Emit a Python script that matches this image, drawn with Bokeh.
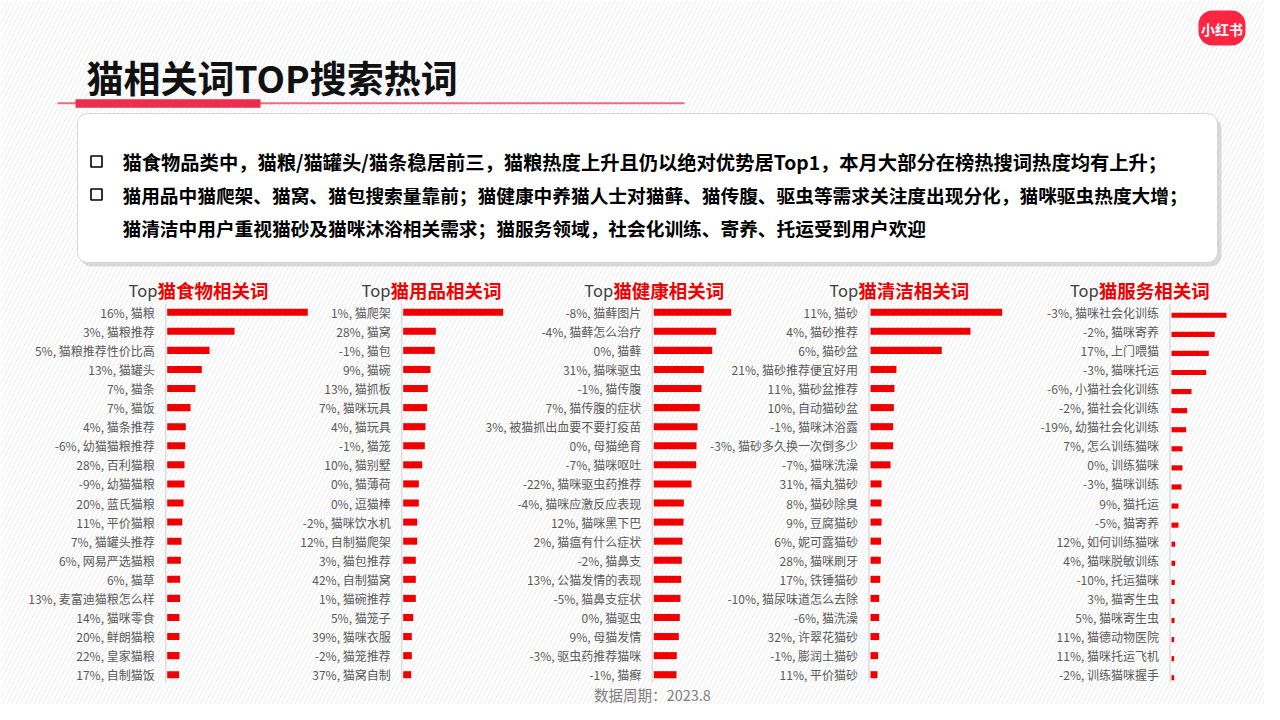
from bokeh.plotting import figure
from bokeh.models import Range1d, ColumnDataSource
from bokeh.core.properties import value
from bokeh.transform import dodge
from bokeh.embed import file_html
from bokeh.resources import INLINE

# ---------------- data ----------------
page_title = "猫相关词TOP搜索热词"
bullet_lines = [
    "猫食物品类中，猫粮/猫罐头/猫条稳居前三，猫粮热度上升且仍以绝对优势居Top1，本月大部分在榜热搜词热度均有上升；",
    "猫用品中猫爬架、猫窝、猫包搜索量靠前；猫健康中养猫人士对猫藓、猫传腹、驱虫等需求关注度出现分化，猫咪驱虫热度大增；",
    "猫清洁中用户重视猫砂及猫咪沐浴相关需求；猫服务领域，社会化训练、寄养、托运受到用户欢迎",
]
footer_text = "数据周期：2023.8"
logo_text = "小红书"

panel_names = ["猫食物相关词", "猫用品相关词", "猫健康相关词", "猫清洁相关词", "猫服务相关词"]

food_kw = ["猫粮", "猫粮推荐", "猫粮推荐性价比高", "猫罐头", "猫条", "猫饭", "猫条推荐", "幼猫猫粮推荐",
           "百利猫粮", "幼猫猫粮", "蓝氏猫粮", "平价猫粮", "猫罐头推荐", "网易严选猫粮", "猫草",
           "麦富迪猫粮怎么样", "猫咪零食", "鲜朗猫粮", "皇家猫粮", "自制猫饭"]
food_pct = [16, 3, 5, 13, 7, 7, 4, -6, 28, -9, 20, 11, 7, 6, 6, 13, 14, 20, 22, 17]
food_heat = [100, 47.9, 30.1, 24.6, 20.1, 16.6, 13.2, 12.8, 12.3, 12.3, 11.6, 10.7, 10.2, 9.7, 9.2,
             9.2, 8.7, 8.7, 8.7, 8.5]

goods_kw = ["猫爬架", "猫窝", "猫包", "猫碗", "猫抓板", "猫咪玩具", "猫玩具", "猫笼", "猫别墅", "猫薄荷",
            "逗猫棒", "猫咪饮水机", "自制猫爬架", "猫包推荐", "自制猫窝", "猫碗推荐", "猫笼子", "猫咪衣服",
            "猫笼推荐", "猫窝自制"]
goods_pct = [1, 28, -1, 9, 13, 7, 4, -1, 10, 0, 0, -2, 12, 3, 42, 1, 5, 39, -2, 37]
goods_heat = [100, 32.6, 31.6, 27.3, 24.6, 24.0, 22.3, 21.6, 19.0, 15.6, 15.6, 14.0, 14.0, 12.6, 12.6,
              12.6, 10.0, 8.6, 8.6, 8.0]

health_kw = ["猫藓图片", "猫藓怎么治疗", "猫藓", "猫咪驱虫", "猫传腹", "猫传腹的症状", "被猫抓出血要不要打疫苗",
             "母猫绝育", "猫咪呕吐", "猫咪驱虫药推荐", "猫咪应激反应表现", "猫咪黑下巴", "猫瘟有什么症状",
             "猫鼻支", "公猫发情的表现", "猫鼻支症状", "猫驱虫", "母猫发情", "驱虫药推荐猫咪", "猫癣"]
health_pct = [-8, -4, 0, 31, -1, 7, 3, 0, -7, -22, -4, 12, 2, -2, 13, -5, 0, 9, -3, -1]
health_heat = [100, 80.6, 75.5, 64.6, 61.6, 59.4, 56.5, 55.2, 54.8, 48.7, 38.8, 38.4, 37.1, 36.2, 35.4,
               34.5, 33.6, 32.3, 29.7, 29.3]

clean_kw = ["猫砂", "猫砂推荐", "猫砂盆", "猫砂推荐便宜好用", "猫砂盆推荐", "自动猫砂盆", "猫咪沐浴露",
            "猫砂多久换一次倒多少", "猫咪洗澡", "福丸猫砂", "猫砂除臭", "豆腐猫砂", "妮可露猫砂", "猫咪刷牙",
            "铁锤猫砂", "猫尿味道怎么去除", "猫洗澡", "许翠花猫砂", "膨润土猫砂", "平价猫砂"]
clean_pct = [11, 4, 6, 21, 11, 10, -1, -3, -7, 31, 8, 9, 6, 28, 17, -10, -6, 32, -1, 11]
clean_heat = [100, 75.9, 54.1, 19.7, 18.2, 17.7, 17.2, 17.2, 15.2, 8.4, 8.4, 8.4, 8.1, 7.8, 7.4,
              6.6, 6.6, 6.6, 5.8, 5.3]

service_kw = ["猫咪社会化训练", "猫咪寄养", "上门喂猫", "猫咪托运", "小猫社会化训练", "猫社会化训练",
              "幼猫社会化训练", "怎么训练猫咪", "训练猫咪", "猫咪训练", "猫托运", "猫寄养", "如何训练猫咪",
              "猫咪脱敏训练", "托运猫咪", "猫寄生虫", "猫咪寄生虫", "猫德动物医院", "猫咪托运飞机", "训练猫咪握手"]
service_pct = [-3, -2, 17, -3, -6, -2, -19, 7, 0, -3, 9, -5, 12, 4, -10, 3, 5, 11, 11, -2]
service_heat = [100, 78.7, 67.8, 63.1, 36.4, 28.5, 26.7, 20.0, 20.0, 18.2, 12.7, 12.7, 6.7, 6.7, 6.0,
                5.5, 5.5, 4.9, 4.9, 4.9]

panels = [
    (food_kw, food_pct, food_heat),
    (goods_kw, goods_pct, goods_heat),
    (health_kw, health_pct, health_heat),
    (clean_kw, clean_pct, clean_heat),
    (service_kw, service_pct, service_heat),
]
HEAT_MAX = 100

# ---------------- layout (pixel geometry) ----------------
X0, X1, Y0, Y1 = 0, 1264, 0, 704
axis_px = [166.7, 402.7, 653.3, 870.0, 1171.0]      # where value 0 sits
full_px = [307.3, 502.7, 730.7, 1001.7, 1226.0]     # where HEAT_MAX sits
title_split = [157.0, 390.0, 612.7, 857.7, 1098.3]
ROW0, STEP = 311.7, 19.08

FONT = value("Noto Sans CJK SC")
RED = "#f00000"

p = figure(width=X1 - X0, height=Y1 - Y0, x_range=Range1d(X0, X1), y_range=Range1d(Y1, Y0),
           output_backend="svg", toolbar_location=None, x_axis_type=None, y_axis_type=None,
           min_border=0, outline_line_color=None, background_fill_color="white",
           border_fill_color="white")
p.grid.visible = False

xr = {}
for k in range(5):
    s = (full_px[k] - axis_px[k]) / HEAT_MAX
    xr[f"p{k}"] = Range1d(start=(X0 - axis_px[k]) / s, end=(X1 - axis_px[k]) / s)
p.extra_x_ranges = xr
p.extra_y_ranges = {"rows": Range1d(start=(Y1 - ROW0) / STEP, end=(Y0 - ROW0) / STEP)}

# background stripes
p.quad(left=X0, right=X1, top=Y0, bottom=Y1, fill_color="white", line_color=None,
       hatch_pattern="/", hatch_color="#ececec", hatch_scale=9, hatch_weight=1)


def rquad(**kw):
    r = kw.pop("radius", 0)
    try:
        return p.quad(border_radius=r, **kw)
    except Exception:
        return p.quad(**kw)


# logo
rquad(left=1198, right=1245, top=10, bottom=45, fill_color="#ff2442", line_color=None, radius=14)
p.text(x=[1221.5], y=[28], text=[logo_text], text_color="white", text_font=FONT,
       text_font_style="bold", text_font_size="14px", text_align="center", text_baseline="middle")

# page title
p.text(x=[86], y=[76], text=[page_title], text_color="#111111", text_font=FONT,
       text_font_style="bold", text_font_size="37px", text_align="left", text_baseline="middle")
p.segment(x0=[57], x1=[684], y0=[102.7], y1=[102.7], line_color="#ec6b7d", line_width=2)
p.quad(left=75, right=260, top=98.7, bottom=107.3, fill_color="#ee2c4b", line_color=None)

# summary box
rquad(left=80, right=1221, top=117, bottom=266, fill_color="#b0b0b0", fill_alpha=0.45,
      line_color=None, radius=11)
rquad(left=77, right=1217, top=113, bottom=262, fill_color="white", line_color="#d6d6d6",
      line_width=1, radius=10)
p.scatter(x=[96, 96], y=[161, 194], marker="square", size=11, fill_color=None,
          line_color="black", line_width=1.6)
bsrc = ColumnDataSource(dict(x=[122, 122, 122], y=[161, 194, 227], t=bullet_lines,
                             fs=["19.3px", "18.7px", "18.7px"]))
p.text(x="x", y="y", text="t", text_font_size="fs", source=bsrc, text_color="black",
       text_font=FONT, text_font_style="bold", text_align="left", text_baseline="middle")

# panels
for k, (kw, pct, heat) in enumerate(panels):
    rows = list(range(len(kw)))
    labels = [f"{c}%, {w}" for c, w in zip(pct, kw)]
    src = ColumnDataSource(dict(row=rows, heat=heat, label=labels))
    rn = f"p{k}"
    # axis line
    p.segment(x0=[axis_px[k] - 1.5], x1=[axis_px[k] - 1.5], y0=[303], y1=[682],
              line_color="#d9dde3", line_width=1.5)
    if k == 4:
        p.hbar(y=dodge("row", 0.16), left=0, right="heat", height=0.27, source=src,
               fill_color=RED, line_color=None, x_range_name=rn, y_range_name="rows")
    else:
        p.hbar(y="row", left=0, right="heat", height=0.37, source=src,
               fill_color=RED, line_color=None, x_range_name=rn, y_range_name="rows")
    p.text(x=0, y="row", text="label", source=src, x_offset=-12.5, text_align="right",
           text_baseline="middle", text_font=FONT, text_font_size="12px", text_color="#595959",
           x_range_name=rn, y_range_name="rows")
    # panel title
    p.text(x=[title_split[k]], y=[289], text=["Top"], text_align="right", text_baseline="middle",
           text_font=FONT, text_font_size="16.5px", text_color="#404040")
    p.text(x=[title_split[k]], y=[289], text=[panel_names[k]], text_align="left",
           text_baseline="middle", text_font=FONT, text_font_style="bold",
           text_font_size="18.5px", text_color=RED)

# footer
p.text(x=[652], y=[694], text=[footer_text], text_align="center", text_baseline="middle",
       text_font=FONT, text_font_size="14.5px", text_color="#7f7f7f")

open("out.html", "w").write(file_html(p, INLINE))
